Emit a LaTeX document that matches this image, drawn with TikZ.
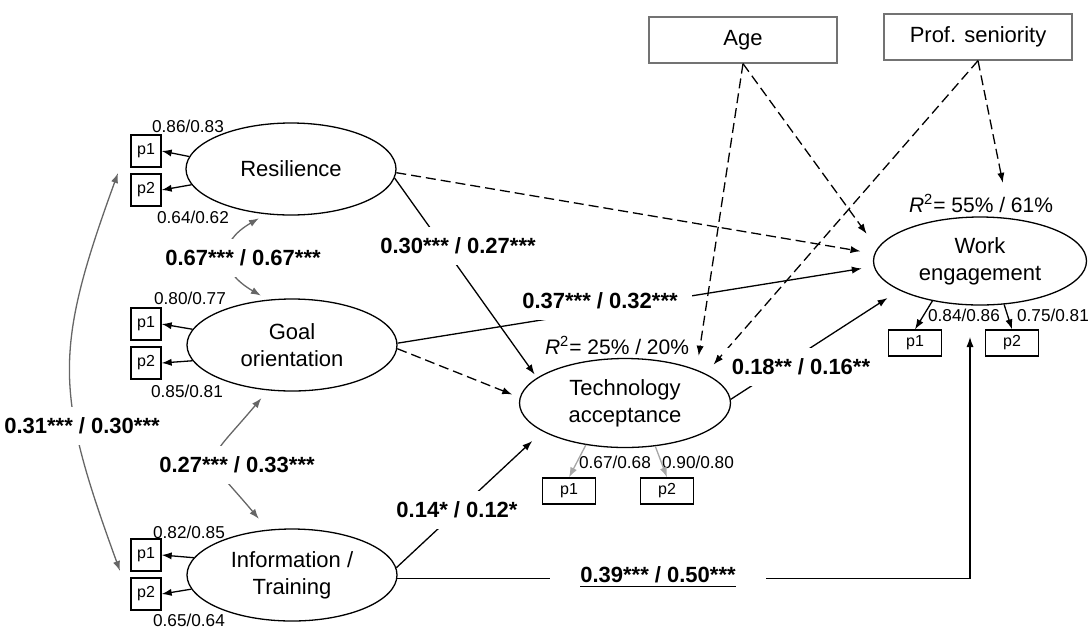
\documentclass[tikz,border=0pt]{standalone}
\usepackage{fontspec}
\setmainfont{Liberation Sans}
\usetikzlibrary{arrows.meta,shapes.geometric}

\begin{document}
\begin{tikzpicture}[>={Latex[length=5pt,width=3.6pt]},x=0.5pt,y=-0.5pt,line width=0.65pt,
	latent/.style={draw,ellipse,minimum width=105pt,minimum height=46pt,inner sep=0pt,align=center,font=\fontsize{11}{13.5}\selectfont},
	item/.style={draw,minimum width=15pt,minimum height=16pt,inner sep=0pt,font=\fontsize{8}{9}\selectfont},
	itemw/.style={item,minimum width=26.5pt,minimum height=13pt},
	ctrl/.style={draw=black!55,minimum width=94pt,minimum height=23pt,font=\fontsize{11}{13}\selectfont},
	coef/.style={fill=white,inner xsep=4pt,inner ysep=5.5pt,font=\bfseries\fontsize{11}{13}\selectfont},
	load/.style={inner sep=0pt,font=\fontsize{8.6}{10}\selectfont},
	rsq/.style={inner sep=0pt,font=\fontsize{10.5}{12}\selectfont},
	ns/.style={dash pattern=on 5pt off 2.5pt},
	cov/.style={<->,black!60},
	]
		\useasboundingbox (0,0) rectangle (1091,628);
		\node[latent] (res) at (291,169) {Resilience};
		\node[latent] (goal) at (292,345) {Goal\\orientation};
		\node[latent] (info) at (292,575) {Information /\\Training};
		\node[latent,minimum width=105.5pt,minimum height=44.5pt] (tech) at (625,403) {Technology\\acceptance};
		\node[latent,minimum width=106.5pt,minimum height=44pt] (we) at (980,261) {Work\\engagement};
		\node[ctrl] (age) at (743,40) {Age};
		\node[ctrl] (prof) at (978,37) {Prof. seniority};
		\node[item] (rp1) at (146,151) {p1};
		\node[item] (rp2) at (146,190) {p2};
		\node[item] (gp1) at (146,324) {p1};
		\node[item] (gp2) at (146,363) {p2};
		\node[item] (ip1) at (146,555) {p1};
		\node[item] (ip2) at (146,594) {p2};
		\node[itemw] (tp1) at (569,491) {p1};
		\node[itemw] (tp2) at (667,491) {p2};
		\node[itemw] (wp1) at (915,343) {p1};
		\node[itemw] (wp2) at (1012,343) {p2};
		\node[load] (lr1) at (188,126) {0.86/0.83};
		\node[load] (lr2) at (193,217) {0.64/0.62};
		\node[load] (lg1) at (190,298) {0.80/0.77};
		\node[load] (lg2) at (187,391) {0.85/0.81};
		\node[load] (li1) at (189,532) {0.82/0.85};
		\node[load] (li2) at (189,620) {0.65/0.64};
		\node[load] (lt1) at (615,462) {0.67/0.68};
		\node[load] (lt2) at (698,462) {0.90/0.80};
		\node[load] (lw1) at (964,315) {0.84/0.86};
		\node[load] (lw2) at (1053,315) {0.75/0.81};
		\node[rsq] (rt) at (617,345) {\textit{R}\textsuperscript{2}= 25\% / 20\%};
		\node[rsq] (rw) at (981,203) {\textit{R}\textsuperscript{2}= 55\% / 61\%};
		\coordinate (rgrp) at (118,173);
		\coordinate (igrp) at (120,571);
		\coordinate (wein) at (970,337);
		\draw[->] (res.173) -- (rp1.east);
		\draw[->] (res.189) -- (rp2.east);
		\draw[->] (goal.171) -- (gp1.east);
		\draw[->] (goal.189) -- (gp2.east);
		\draw[->] (info.170) -- (ip1.east);
		\draw[->] (info.188) -- (ip2.east);
		\draw[->,black!35] (tech.227) -- (tp1.north);
		\draw[->,black!35] (tech.305) -- (tp2.north);
		\draw[->] (we.220) -- (wp1.north);
		\draw[->] (we.299) -- (wp2.north);
		\draw[cov,shorten <=4pt,shorten >=4pt] (res.241) to[out=210,in=150,looseness=1.7] (goal.118);
		\draw[cov,shorten <=5pt,shorten >=7pt] (goal.242) to[out=230,in=130,looseness=1.9] (info.118);
		\draw[cov] (rgrp) to[out=250,in=110,looseness=1.22] (igrp);
		\draw[ns,->,shorten >=7pt] (res.-2) -- (we.176);
		\draw[->,shorten >=2pt] (res.-5) -- (tech.164);
		\draw[->,shorten >=6pt] (goal.1.5) -- (we.183);
		\draw[ns,->,shorten >=4pt] (goal.-2) -- (tech.177);
		\draw[->,shorten >=7pt] (info.4) -- (tech.199);
		\draw[->] (info.-2) -| (wein);
		\draw[->,shorten >=7pt] (tech.2) -- (we.200);
		\draw[ns,->,shorten >=7pt] (age.south) -- (tech.25);
		\draw[ns,->,shorten >=9pt] (age.south) -- (we.173);
		\draw[ns,->,shorten >=6pt] (prof.south) -- (tech.20);
		\draw[ns,->,shorten >=18pt] (prof.south) -- (we.55);
		\node[coef] (c67) at (243,258) {0.67*** / 0.67***};
		\node[coef] (c27) at (237,465) {0.27*** / 0.33***};
		\node[coef] (c31) at (82,426) {0.31*** / 0.30***};
		\node[coef] (c30) at (458,246) {0.30*** / 0.27***};
		\node[coef,inner xsep=7pt] (c37) at (600,301) {0.37*** / 0.32***};
		\node[coef] (c14) at (457,510) {0.14* / 0.12*};
		\node[coef] (c18) at (801,367) {0.18** / 0.16**};
		\node[coef,inner xsep=15pt] (c39) at (658,577) {\underline{0.39*** / 0.50***}};
\end{tikzpicture}
\end{document}
